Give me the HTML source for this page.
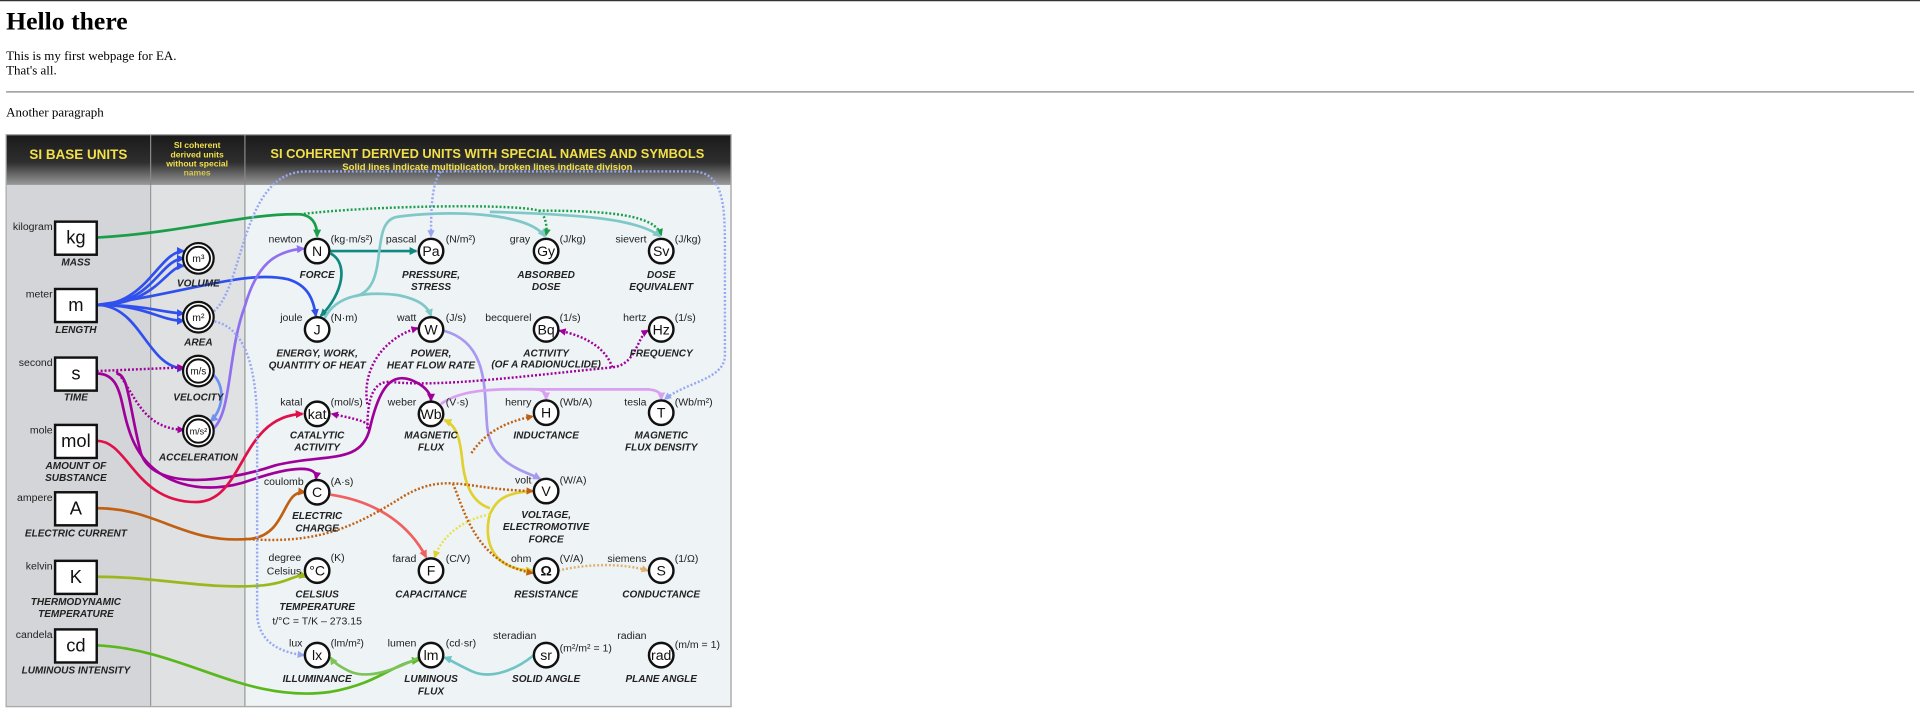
<!DOCTYPE html>
<html><head><meta charset="utf-8"><style>
html,body{margin:0;padding:0;background:#fff;width:1920px;height:728px;overflow:hidden}
svg{display:block}
.s{font-family:"Liberation Serif",serif;fill:#000}
.n{font-family:"Liberation Sans",sans-serif;font-size:8.6px;fill:#222}
.l{font-family:"Liberation Sans",sans-serif;font-size:8.2px;font-style:italic;font-weight:bold;fill:#222;text-anchor:middle}
.c{font-family:"Liberation Sans",sans-serif;font-size:11.5px;fill:#111;text-anchor:middle}
.b{font-family:"Liberation Sans",sans-serif;font-size:15px;fill:#111;text-anchor:middle}
.y{font-family:"Liberation Sans",sans-serif;fill:#f2e04a;font-weight:bold;text-anchor:middle}
.k path{fill:none;stroke-width:2.2}
.k path.d{stroke-dasharray:1.6 1.6;stroke-width:2}
</style></head><body>
<svg width="1920" height="728" viewBox="0 0 1568 594.5" xmlns="http://www.w3.org/2000/svg">
<defs>
<linearGradient id="hg" x1="0" y1="0" x2="0" y2="1"><stop offset="0" stop-color="#1a1a1a"/><stop offset="0.55" stop-color="#2e2e2e"/><stop offset="1" stop-color="#9a9a9a"/></linearGradient>
<marker id="g" viewBox="0 0 6 6" refX="5" refY="3" markerWidth="3" markerHeight="3" orient="auto"><path d="M0,0L6,3L0,6z" fill="#1a9e4a"/></marker>
<marker id="b" viewBox="0 0 6 6" refX="5" refY="3" markerWidth="3" markerHeight="3" orient="auto"><path d="M0,0L6,3L0,6z" fill="#3050ee"/></marker>
<marker id="lb" viewBox="0 0 6 6" refX="5" refY="3" markerWidth="3" markerHeight="3" orient="auto"><path d="M0,0L6,3L0,6z" fill="#7090f0"/></marker>
<marker id="p" viewBox="0 0 6 6" refX="5" refY="3" markerWidth="3" markerHeight="3" orient="auto"><path d="M0,0L6,3L0,6z" fill="#9070f0"/></marker>
<marker id="mg" viewBox="0 0 6 6" refX="5" refY="3" markerWidth="3" markerHeight="3" orient="auto"><path d="M0,0L6,3L0,6z" fill="#a0009a"/></marker>
<marker id="r" viewBox="0 0 6 6" refX="5" refY="3" markerWidth="3" markerHeight="3" orient="auto"><path d="M0,0L6,3L0,6z" fill="#e0104a"/></marker>
<marker id="o" viewBox="0 0 6 6" refX="5" refY="3" markerWidth="3" markerHeight="3" orient="auto"><path d="M0,0L6,3L0,6z" fill="#c06010"/></marker>
<marker id="yg" viewBox="0 0 6 6" refX="5" refY="3" markerWidth="3" markerHeight="3" orient="auto"><path d="M0,0L6,3L0,6z" fill="#9ab81c"/></marker>
<marker id="gr" viewBox="0 0 6 6" refX="5" refY="3" markerWidth="3" markerHeight="3" orient="auto"><path d="M0,0L6,3L0,6z" fill="#5ab81c"/></marker>
<marker id="lg" viewBox="0 0 6 6" refX="5" refY="3" markerWidth="3" markerHeight="3" orient="auto"><path d="M0,0L6,3L0,6z" fill="#7cc45a"/></marker>
<marker id="tq" viewBox="0 0 6 6" refX="5" refY="3" markerWidth="3" markerHeight="3" orient="auto"><path d="M0,0L6,3L0,6z" fill="#70c4c4"/></marker>
<marker id="t" viewBox="0 0 6 6" refX="5" refY="3" markerWidth="3" markerHeight="3" orient="auto"><path d="M0,0L6,3L0,6z" fill="#108a80"/></marker>
<marker id="lt" viewBox="0 0 6 6" refX="5" refY="3" markerWidth="3" markerHeight="3" orient="auto"><path d="M0,0L6,3L0,6z" fill="#80c8c8"/></marker>
<marker id="lv" viewBox="0 0 6 6" refX="5" refY="3" markerWidth="3" markerHeight="3" orient="auto"><path d="M0,0L6,3L0,6z" fill="#a898f0"/></marker>
<marker id="pk" viewBox="0 0 6 6" refX="5" refY="3" markerWidth="3" markerHeight="3" orient="auto"><path d="M0,0L6,3L0,6z" fill="#d8a0f0"/></marker>
<marker id="y" viewBox="0 0 6 6" refX="5" refY="3" markerWidth="3" markerHeight="3" orient="auto"><path d="M0,0L6,3L0,6z" fill="#e0d030"/></marker>
<marker id="sa" viewBox="0 0 6 6" refX="5" refY="3" markerWidth="3" markerHeight="3" orient="auto"><path d="M0,0L6,3L0,6z" fill="#f06060"/></marker>
<marker id="bd" viewBox="0 0 6 6" refX="5" refY="3" markerWidth="3" markerHeight="3" orient="auto"><path d="M0,0L6,3L0,6z" fill="#98a8f0"/></marker>
<marker id="ts" viewBox="0 0 6 6" refX="5" refY="3" markerWidth="3" markerHeight="3" orient="auto"><path d="M0,0L6,3L0,6z" fill="#e0b070"/></marker>
</defs>
<line x1="0" y1="0.5" x2="1568" y2="0.5" stroke="#333" stroke-width="1"/>
<text class="s" x="5" y="24" font-size="21" font-weight="bold">Hello there</text>
<text class="s" x="5" y="49" font-size="10.6">This is my first webpage for EA.</text>
<text class="s" x="5" y="61" font-size="10.6">That's all.</text>
<line x1="5" y1="75" x2="1563" y2="75" stroke="#999" stroke-width="1.2"/>
<text class="s" x="5" y="95" font-size="10.6">Another paragraph</text>

<rect x="5" y="110" width="592" height="467" fill="#eef3f6" stroke="#999" stroke-width="1"/>
<rect x="5" y="110" width="118" height="467" fill="#d3d5d8"/>
<rect x="123" y="110" width="77" height="467" fill="#dfe1e3"/>
<line x1="123" y1="110" x2="123" y2="577" stroke="#999"/>
<line x1="200" y1="110" x2="200" y2="577" stroke="#999"/>
<rect x="5" y="110" width="592" height="41" fill="url(#hg)"/>
<line x1="123" y1="110" x2="123" y2="151" stroke="#888"/>
<line x1="200" y1="110" x2="200" y2="151" stroke="#888"/>
<rect x="5" y="110" width="592" height="467" fill="none" stroke="#aaa" stroke-width="1"/>
<text class="y" x="64" y="130" font-size="11">SI BASE UNITS</text>
<text class="y" x="161" y="121" font-size="7">SI coherent</text>
<text class="y" x="161" y="128.5" font-size="7">derived units</text>
<text class="y" x="161" y="136" font-size="7">without special</text>
<text class="y" x="161" y="143.5" font-size="7" fill-opacity="0.8">names</text>
<text class="y" x="398" y="129" font-size="10.5">SI COHERENT  DERIVED UNITS WITH SPECIAL NAMES AND SYMBOLS</text>
<text class="y" x="398" y="139" font-size="7.8" font-weight="normal">Solid lines indicate multiplication, broken lines indicate division</text>

<g class="k">
<path d="M79,194 C150,190 200,174 245,175 C256,176 259,184 259,193" stroke="#1a9e4a" marker-end="url(#g)"/>
<path class="d" d="M245,175 C300,168 420,166 440,172 C446,176 447,186 446,192" stroke="#1a9e4a" marker-end="url(#g)"/>
<path class="d" d="M440,172 C500,172 535,176 540,192" stroke="#1a9e4a" marker-end="url(#g)"/>
<g stroke="#3050ee">
<path d="M79,249 C120,249 130,205 150,205" marker-end="url(#b)"/><path d="M79,249 C125,249 130,212 150,211" marker-end="url(#b)"/><path d="M79,249 C128,249 135,218 150,217" marker-end="url(#b)"/>
<path d="M79,249 C120,249 130,255 150,256" marker-end="url(#b)"/><path d="M79,249 C120,249 130,262 150,262" marker-end="url(#b)"/>
<path d="M79,249 C115,249 120,300 150,301" marker-end="url(#b)"/>
<path d="M79,249 C150,240 200,220 235,228 C252,233 256,245 258,258" marker-end="url(#b)"/>
</g>
<path d="M173,305 C185,315 182,335 172,344" stroke="#7090f0" marker-end="url(#lb)"/>
<path d="M172,352 C190,340 185,290 200,250 C210,215 225,205 248,203" stroke="#9070f0" marker-end="url(#p)"/>
<path class="d" d="M79,303 L150,300" stroke="#a0009a" marker-end="url(#mg)"/>
<path class="d" d="M95,303 C110,320 115,350 150,351" stroke="#a0009a" marker-end="url(#mg)"/>
<path d="M79,305 C100,305 98,330 105,350 C120,400 170,405 205,392 C240,380 260,380 258,391" stroke="#a0009a" marker-end="url(#mg)"/>
<path d="M95,305 C105,305 105,330 115,370 C125,400 180,395 225,380 C265,370 295,380 302,350 C310,315 320,305 335,310 C348,315 352,322 352,327" stroke="#a0009a" marker-end="url(#mg)"/>
<path d="M79,360 C105,360 110,410 160,410 C200,410 195,340 247,338" stroke="#e0104a" marker-end="url(#r)"/>
<path d="M79,415 C130,415 150,445 205,440 C235,436 230,400 249,402" stroke="#c06010" marker-end="url(#o)"/>
<path d="M79,471 C130,471 170,482 215,478 C240,475 240,468 250,471" stroke="#9ab81c" marker-end="url(#yg)"/>
<path d="M79,527 C150,530 200,575 270,565 C310,558 320,542 342,539" stroke="#5ab81c" marker-end="url(#gr)"/>
<path d="M342,537 C320,548 300,555 285,548 C275,543 272,540 270,537" stroke="#7cc45a" marker-end="url(#lg)"/>
<path d="M436,535 C420,548 400,555 385,548 C372,542 366,538 363,537" stroke="#70c4c4" marker-end="url(#tq)"/>
<path d="M270,205 L340,205" stroke="#108a80" marker-end="url(#t)"/>
<path d="M270,207 C285,215 280,240 262,258" stroke="#108a80" marker-end="url(#t)"/>
<path d="M265,260 C275,240 300,238 325,241 C345,245 350,252 352,258" stroke="#80c8c8" marker-end="url(#lt)"/>
<path d="M290,242 C320,235 300,180 325,177 C360,172 430,172 445,193" stroke="#80c8c8" marker-end="url(#lt)"/>
<path d="M400,173 C470,175 520,178 539,193" stroke="#80c8c8" marker-end="url(#lt)"/>
<path d="M362,270 C400,280 395,320 398,350 C402,380 430,385 441,391" stroke="#a898f0" marker-end="url(#lv)"/>
<path d="M360,330 C380,315 420,318 445,318 L530,318 C540,319 540,323 540,326" stroke="#d8a0f0" marker-end="url(#pk)"/>
<path d="M437,318 C445,318 446,322 446,326" stroke="#d8a0f0" marker-end="url(#pk)"/>
<path d="M436,401 C410,402 405,410 400,420 C395,440 400,465 435,466" stroke="#e0d030" marker-end="url(#y)"/>
<path d="M400,415 C385,410 380,395 378,380 C376,360 374,348 363,343" stroke="#e0d030" marker-end="url(#y)"/>
<path class="d" d="M400,420 C375,425 360,440 355,455" stroke="#e8e050" marker-end="url(#y)"/>
<path d="M270,404 C310,410 335,430 348,455" stroke="#f06060" marker-end="url(#sa)"/>
<path class="d" d="M200,440 C260,445 290,430 330,405 C365,385 380,400 435,401" stroke="#c06010" marker-end="url(#o)"/>
<path class="d" d="M370,395 C380,420 390,460 435,468" stroke="#c06010" marker-end="url(#o)"/>
<path class="d" d="M385,370 C395,355 410,345 435,340" stroke="#c06010" marker-end="url(#o)"/>
<path class="d" d="M456,466 C480,460 510,460 529,466" stroke="#e0b070" marker-end="url(#ts)"/>
<path class="d" d="M300,350 C300,325 305,310 320,312 C360,316 420,308 500,300 C520,298 520,275 529,270" stroke="#a0009a" marker-end="url(#mg)"/>
<path class="d" d="M500,300 C495,285 480,275 457,270" stroke="#a0009a" marker-end="url(#mg)"/>
<path class="d" d="M300,330 C295,300 315,275 341,268" stroke="#a0009a" marker-end="url(#mg)"/>
<path class="d" d="M300,350 C305,345 290,342 271,338" stroke="#a0009a" marker-end="url(#mg)"/>
<path class="d" d="M172,256 C200,240 195,140 250,140 L565,140 C590,140 592,165 592,200 L592,290 C592,310 560,312 543,326" stroke="#98a8f0" marker-end="url(#bd)"/>
<path class="d" d="M360,140 C352,150 352,175 352,193" stroke="#98a8f0" marker-end="url(#bd)"/>
<path class="d" d="M172,262 C200,265 210,300 210,350 L210,500 C210,525 230,533 248,535" stroke="#98a8f0" marker-end="url(#bd)"/>
</g>

<g font-family="Liberation Sans,sans-serif">
<g fill="#fff" stroke="#111" stroke-width="2">
<rect x="45" y="181" width="34" height="27"/><rect x="45" y="236" width="34" height="27"/><rect x="45" y="292" width="34" height="27"/>
<rect x="45" y="347" width="34" height="27"/><rect x="45" y="402" width="34" height="27"/><rect x="45" y="458" width="34" height="27"/><rect x="45" y="514" width="34" height="27"/>
</g>
<text class="b" x="62" y="199">kg</text><text class="b" x="62" y="254">m</text><text class="b" x="62" y="310">s</text>
<text class="b" x="62" y="365">mol</text><text class="b" x="62" y="420">A</text><text class="b" x="62" y="476">K</text><text class="b" x="62" y="532">cd</text>
<text class="n" x="43" y="188" text-anchor="end">kilogram</text><text class="n" x="43" y="243" text-anchor="end">meter</text>
<text class="n" x="43" y="299" text-anchor="end">second</text><text class="n" x="43" y="354" text-anchor="end">mole</text>
<text class="n" x="43" y="409" text-anchor="end">ampere</text><text class="n" x="43" y="465" text-anchor="end">kelvin</text><text class="n" x="43" y="521" text-anchor="end">candela</text>
<text class="l" x="62" y="217">MASS</text><text class="l" x="62" y="272">LENGTH</text><text class="l" x="62" y="327">TIME</text>
<text class="l" x="62" y="383">AMOUNT OF</text><text class="l" x="62" y="393">SUBSTANCE</text>
<text class="l" x="62" y="438">ELECTRIC CURRENT</text>
<text class="l" x="62" y="494">THERMODYNAMIC</text><text class="l" x="62" y="504">TEMPERATURE</text>
<text class="l" x="62" y="550">LUMINOUS INTENSITY</text>
</g>

<g fill="#fff" stroke="#111">
<circle cx="162" cy="211" r="12.5" stroke-width="1.8"/><circle cx="162" cy="211" r="9.5" stroke-width="1.6"/>
<circle cx="162" cy="259" r="12.5" stroke-width="1.8"/><circle cx="162" cy="259" r="9.5" stroke-width="1.6"/>
<circle cx="162" cy="303" r="12.5" stroke-width="1.8"/><circle cx="162" cy="303" r="9.5" stroke-width="1.6"/>
<circle cx="162" cy="352" r="12.5" stroke-width="1.8"/><circle cx="162" cy="352" r="9.5" stroke-width="1.6"/>
</g>
<g font-family="Liberation Sans,sans-serif" font-size="8.5" text-anchor="middle" fill="#111">
<text x="162" y="214">m³</text><text x="162" y="262">m²</text><text x="162" y="306" font-size="8">m/s</text><text x="162" y="355" font-size="7.4">m/s²</text>
</g>
<text class="l" x="162" y="234">VOLUME</text><text class="l" x="162" y="282">AREA</text><text class="l" x="162" y="327">VELOCITY</text><text class="l" x="162" y="376">ACCELERATION</text>

<g fill="#fff" stroke="#111" stroke-width="2">
<circle cx="259" cy="205" r="10"/><circle cx="352" cy="205" r="10"/><circle cx="446" cy="205" r="10"/><circle cx="540" cy="205" r="10"/>
<circle cx="259" cy="269" r="10"/><circle cx="352" cy="269" r="10"/><circle cx="446" cy="269" r="10"/><circle cx="540" cy="269" r="10"/>
<circle cx="259" cy="338" r="10"/><circle cx="352" cy="338" r="10"/><circle cx="446" cy="337" r="10"/><circle cx="540" cy="337" r="10"/>
<circle cx="259" cy="402" r="10"/><circle cx="446" cy="401" r="10"/>
<circle cx="259" cy="466" r="10"/><circle cx="352" cy="466" r="10"/><circle cx="446" cy="466" r="10"/><circle cx="540" cy="466" r="10"/>
<circle cx="259" cy="535" r="10"/><circle cx="352" cy="535" r="10"/><circle cx="446" cy="535" r="10"/><circle cx="540" cy="535" r="10"/>
</g>
<g>
<text class="c" x="259" y="209">N</text><text class="c" x="352" y="209">Pa</text><text class="c" x="446" y="209">Gy</text><text class="c" x="540" y="209">Sv</text>
<text class="c" x="259" y="273">J</text><text class="c" x="352" y="273">W</text><text class="c" x="446" y="273">Bq</text><text class="c" x="540" y="273">Hz</text>
<text class="c" x="259" y="342" font-size="10.5">kat</text><text class="c" x="352" y="342">Wb</text><text class="c" x="446" y="341">H</text><text class="c" x="540" y="341">T</text>
<text class="c" x="259" y="406">C</text><text class="c" x="446" y="405">V</text>
<text class="c" x="259" y="470" font-size="10">°C</text><text class="c" x="352" y="470">F</text><text class="c" x="446" y="470" font-weight="bold" font-size="10">Ω</text><text class="c" x="540" y="470">S</text>
<text class="c" x="259" y="539">lx</text><text class="c" x="352" y="539">lm</text><text class="c" x="446" y="539">sr</text><text class="c" x="540" y="539" font-size="10">rad</text>
</g>
<g>
<text class="n" x="247" y="198" text-anchor="end">newton</text><text class="n" x="270" y="198">(kg·m/s²)</text>
<text class="n" x="340" y="198" text-anchor="end">pascal</text><text class="n" x="364" y="198">(N/m²)</text>
<text class="n" x="433" y="198" text-anchor="end">gray</text><text class="n" x="457" y="198">(J/kg)</text>
<text class="n" x="528" y="198" text-anchor="end">sievert</text><text class="n" x="551" y="198">(J/kg)</text>
<text class="n" x="247" y="262" text-anchor="end">joule</text><text class="n" x="270" y="262">(N·m)</text>
<text class="n" x="340" y="262" text-anchor="end">watt</text><text class="n" x="364" y="262">(J/s)</text>
<text class="n" x="434" y="262" text-anchor="end">becquerel</text><text class="n" x="457" y="262">(1/s)</text>
<text class="n" x="528" y="262" text-anchor="end">hertz</text><text class="n" x="551" y="262">(1/s)</text>
<text class="n" x="247" y="331" text-anchor="end">katal</text><text class="n" x="270" y="331">(mol/s)</text>
<text class="n" x="340" y="331" text-anchor="end">weber</text><text class="n" x="364" y="331">(V·s)</text>
<text class="n" x="434" y="331" text-anchor="end">henry</text><text class="n" x="457" y="331">(Wb/A)</text>
<text class="n" x="528" y="331" text-anchor="end">tesla</text><text class="n" x="551" y="331">(Wb/m²)</text>
<text class="n" x="248" y="396" text-anchor="end">coulomb</text><text class="n" x="270" y="396">(A·s)</text>
<text class="n" x="434" y="395" text-anchor="end">volt</text><text class="n" x="457" y="395">(W/A)</text>
<text class="n" x="246" y="458" text-anchor="end">degree</text><text class="n" x="246" y="469" text-anchor="end">Celsius</text><text class="n" x="270" y="458">(K)</text>
<text class="n" x="340" y="459" text-anchor="end">farad</text><text class="n" x="364" y="459">(C/V)</text>
<text class="n" x="434" y="459" text-anchor="end">ohm</text><text class="n" x="457" y="459">(V/A)</text>
<text class="n" x="528" y="459" text-anchor="end">siemens</text><text class="n" x="551" y="459">(1/Ω)</text>
<text class="n" x="247" y="528" text-anchor="end">lux</text><text class="n" x="270" y="528">(lm/m²)</text>
<text class="n" x="340" y="528" text-anchor="end">lumen</text><text class="n" x="364" y="528">(cd·sr)</text>
<text class="n" x="438" y="522" text-anchor="end">steradian</text><text class="n" x="457" y="532">(m²/m² = 1)</text>
<text class="n" x="528" y="522" text-anchor="end">radian</text><text class="n" x="551" y="529">(m/m = 1)</text>
</g>
<g>
<text class="l" x="259" y="227">FORCE</text>
<text class="l" x="352" y="227">PRESSURE,</text><text class="l" x="352" y="237">STRESS</text>
<text class="l" x="446" y="227">ABSORBED</text><text class="l" x="446" y="237">DOSE</text>
<text class="l" x="540" y="227">DOSE</text><text class="l" x="540" y="237">EQUIVALENT</text>
<text class="l" x="259" y="291">ENERGY, WORK,</text><text class="l" x="259" y="301">QUANTITY OF HEAT</text>
<text class="l" x="352" y="291">POWER,</text><text class="l" x="352" y="301">HEAT FLOW RATE</text>
<text class="l" x="446" y="291">ACTIVITY</text><text class="l" x="446" y="300" font-size="5.8">(OF A RADIONUCLIDE)</text>
<text class="l" x="540" y="291">FREQUENCY</text>
<text class="l" x="259" y="358">CATALYTIC</text><text class="l" x="259" y="368">ACTIVITY</text>
<text class="l" x="352" y="358">MAGNETIC</text><text class="l" x="352" y="368">FLUX</text>
<text class="l" x="446" y="358">INDUCTANCE</text>
<text class="l" x="540" y="358">MAGNETIC</text><text class="l" x="540" y="368">FLUX DENSITY</text>
<text class="l" x="259" y="424">ELECTRIC</text><text class="l" x="259" y="434">CHARGE</text>
<text class="l" x="446" y="423">VOLTAGE,</text><text class="l" x="446" y="433">ELECTROMOTIVE</text><text class="l" x="446" y="443">FORCE</text>
<text class="l" x="259" y="488">CELSIUS</text><text class="l" x="259" y="498">TEMPERATURE</text>
<text class="n" x="259" y="510" text-anchor="middle">t/°C = T/K – 273.15</text>
<text class="l" x="352" y="488">CAPACITANCE</text><text class="l" x="446" y="488">RESISTANCE</text><text class="l" x="540" y="488">CONDUCTANCE</text>
<text class="l" x="259" y="557">ILLUMINANCE</text><text class="l" x="352" y="557">LUMINOUS</text><text class="l" x="352" y="567">FLUX</text>
<text class="l" x="446" y="557">SOLID ANGLE</text><text class="l" x="540" y="557">PLANE ANGLE</text>
</g>
</svg>
</body></html>
